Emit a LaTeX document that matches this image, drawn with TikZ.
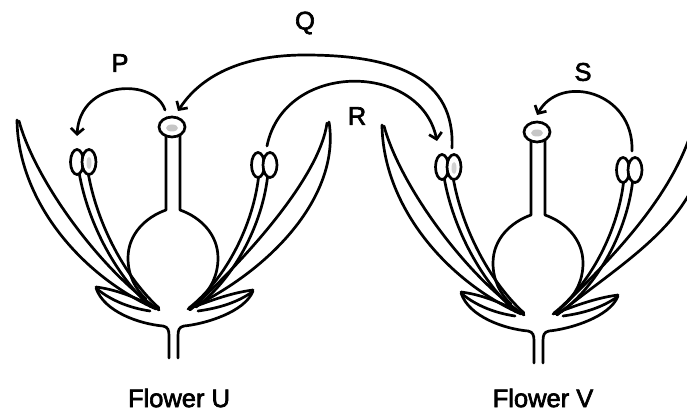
\documentclass[tikz,border=0pt]{standalone}
\usepackage{fontspec}
\setmainfont{Liberation Sans}
\newfontfamily\labfont[FakeBold=2.5]{Liberation Sans}
\usetikzlibrary{arrows.meta,shapes.geometric}
\tikzset{
  ln/.style={line width=2.7pt, line cap=round, line join=round},
  arr/.style={ln, -{Straight Barb[length=6pt,width=13pt]}},
  lab/.style={font=\labfont\fontsize{25.5}{30}\selectfont, inner sep=0pt},
  stigma/.style={ellipse, draw, line width=2.7pt, fill=white, minimum width=26pt, minimum height=20pt, inner sep=0pt},
  flower/.pic={
    % left petal
    \draw[ln] (17,120) .. controls (18,200) and (80,275) .. (156,309);
    \draw[ln] (19,121) .. controls (35,180) and (100,270) .. (159,310);
    % left filament
    \draw[ln] (79,172) .. controls (88,225) and (118,278) .. (151,307);
    \draw[ln] (88,172) .. controls (97,225) and (126,278) .. (159,308);
    % style and ovary
    \draw[ln] (166,134) -- (166,210) .. controls (146,217) and (128,234) .. (128,258) .. controls (128,275) and (135,289) .. (146,299);
    \draw[ln] (180,134) -- (180,210) .. controls (200,217) and (218,234) .. (218,258) .. controls (218,275) and (211,289) .. (200,299);
    % right filament
    \draw[ln] (259,173) .. controls (254,225) and (225,280) .. (189,308);
    \draw[ln] (268,173) .. controls (263,225) and (233,280) .. (196,307);
    % sepals and receptacle
    \draw[ln] (96,287) .. controls (120,290) and (140,300) .. (159,309);
    \draw[ln] (97,289) .. controls (112,301) and (130,308) .. (150,311);
    \draw[ln] (96,288) .. controls (104,312) and (140,324) .. (163,326) .. controls (168,327) and (169,330) .. (169,336) -- (169,358);
    \draw[ln] (253,290) .. controls (230,293) and (210,301) .. (188,309);
    \draw[ln] (252,292) .. controls (238,302) and (220,308) .. (198,311);
    \draw[ln] (253,291) .. controls (245,312) and (205,324) .. (184,326) .. controls (179,327) and (178,330) .. (178,336) -- (178,358);
    % anthers
    \draw[ln, fill=white] (77,162) ellipse [x radius=6.5, y radius=12.5];
    \draw[ln, fill=white] (89,162) ellipse [x radius=7, y radius=12.5];
    \fill[gray!35] (89,163) ellipse [x radius=2.5, y radius=6];
    \draw[ln, fill=white] (258,165) ellipse [x radius=6.5, y radius=12.5];
    \draw[ln, fill=white] (270,165) ellipse [x radius=7, y radius=12.5];
    % stigma
    \node[stigma] (-stig) at (172,127) {};
    \fill[gray!45] (172,128) ellipse [x radius=6, y radius=3.5];
    % arrow ends
    \coordinate (-aL) at (77,136);
    \coordinate (-aLq) at (87,143);
    \coordinate (-rend) at (72,136);
    \coordinate (-aR) at (267,146);
    \coordinate (-sp) at (165,110);
    \coordinate (-sq) at (178,111);
    \coordinate (-ss) at (172,110);
  }
}
\begin{document}
\begin{tikzpicture}[x=1pt,y=-1pt]
\useasboundingbox (0,0) rectangle (687,414);
\clip (0,0) rectangle (687,414);
\fill[white] (0,0) rectangle (687,414);

\pic (U) at (0,0) {flower};
\pic (V) at (365,5) {flower};

% right petals
\draw[ln] (329,122) .. controls (340,190) and (280,265) .. (189,309);
\draw[ln] (327,123) .. controls (320,175) and (250,255) .. (190,310);
\draw[ln] (692,130) .. controls (670,200) and (610,260) .. (555,314);
\draw[ln] (700,170) .. controls (680,230) and (620,265) .. (557,315);

% apex of Q
\coordinate (Qtop) at (305,55);

% arrows
\draw[arr] (U-sp) .. controls +(-10,-32) and +(3,-57) .. (U-aL);
\draw[arr] (V-aLq) .. controls +(3,-68) and +(95,0) .. (Qtop) .. controls +(-65,0) and +(22,-34) .. (U-sq);
\draw[arr] (U-aR) .. controls +(17,-85) and +(-17,-80) .. (V-rend);
\draw[arr] (V-aR) .. controls +(2,-60) and +(23,-42) .. (V-ss);

% labels
\node[lab] (P) at (120,63) {P};
\node[lab] (Q) at (305,23) {Q};
\node[lab] (R) at (357,116) {R};
\node[lab] (S) at (583,72) {S};
\node[lab] (FU) at (179,398) {Flower U};
\node[lab] (FV) at (543,398) {Flower V};
\end{tikzpicture}
\end{document}
